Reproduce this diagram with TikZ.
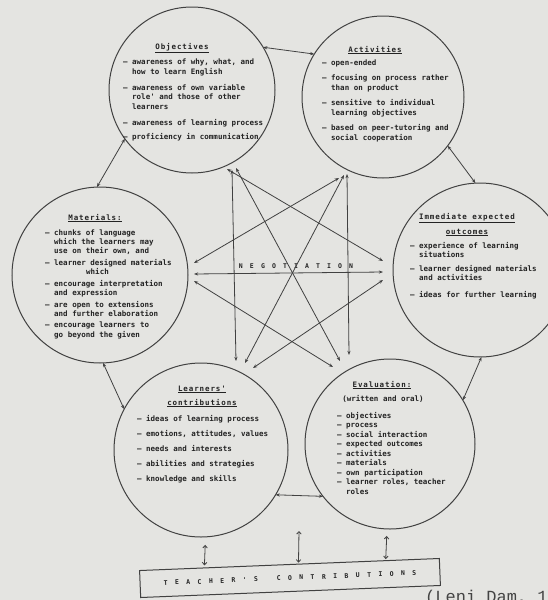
\documentclass[tikz,border=0pt]{standalone}
\usepackage{fontspec}
\setmonofont{DejaVu Sans Mono}
\newfontfamily\ttlfont[LetterSpace=12]{DejaVu Sans Mono}
\newfontfamily\srcfont{Liberation Mono}
\usetikzlibrary{arrows.meta,calc}
\definecolor{paper}{RGB}{228,228,225}
\definecolor{ink}{RGB}{35,35,35}
\definecolor{pen}{RGB}{65,65,65}
\newcommand\nsp{\hspace{7.1pt}}
\newcommand\tsp{\hspace{7.4pt}}
\newcommand\dsh{\textendash}
\begin{document}
\begin{tikzpicture}[x=1pt,y=-1pt,
  >={Stealth[length=4.2pt,width=3.2pt]},
  ring/.style={circle, draw=pen, line width=1pt, minimum size=#1, inner sep=0pt, outer sep=0pt},
  lst/.style={anchor=north west, inner sep=0pt, text=ink, font=\ttfamily\bfseries\fontsize{7.5}{#1}\selectfont},
  ttl/.style={anchor=base, inner sep=0pt, text=ink, font=\ttlfont\bfseries\fontsize{7.5}{9}\selectfont},
  link/.style={draw=pen, line width=0.8pt, <->},
  boxarrow/.style={<->, draw=pen, line width=0.8pt, >={Straight Barb[length=2.5pt,width=4.5pt]}}]
\path[use as bounding box] (0,0) rectangle (548,600);
\fill[paper] (0,0) rectangle (548,600);
\clip (0,0) rectangle (548,600);

% circles
\node[ring=166] (obj) at (192,90) {};
\node[ring=162] (act) at (383,97) {};
\node[ring=176] (mat) at (100,275) {};
\node[ring=174] (imm) at (480,270) {};
\node[ring=174] (lrn) at (201,450) {};
\node[ring=170] (eva) at (390,444) {};

% titles
\node[ttl] (objT) at (182,49) {\underline{Objectives}};
\node[ttl] (actT) at (375,52) {\underline{Activities}};
\node[ttl] (matT) at (95,220) {\underline{Materials:}};
\node[ttl] (immT1) at (467,219) {\underline{Immediate expected}};
\node[ttl] (immT2) at (467,234) {\underline{outcomes}};
\node[ttl] (lrnT1) at (202,391) {\underline{Learners'}};
\node[ttl] (lrnT2) at (202,405) {\underline{contributions}};
\node[ttl] (evaT1) at (382,387) {\underline{Evaluation:}};
\node[ttl, font=\ttfamily\bfseries\fontsize{7.5}{9}\selectfont] (evaT2) at (383,401) {(written and oral)};

% lists
\node[lst=9.6] (objL) at (123,57.5) {\begin{tabular}{@{}l@{\hspace{4.5pt}}l@{}}
\dsh & awareness of why, what, and\\
  & how to learn English\\[6.4pt]
\dsh & awareness of own variable\\
  & role' and those of other\\
  & learners\\[6.6pt]
\dsh & awareness of learning process\\[4.4pt]
\dsh & proficiency in communication
\end{tabular}};

\node[lst=9.6] (actL) at (322,58.5) {\begin{tabular}{@{}l@{\hspace{4.5pt}}l@{}}
\dsh & open-ended\\[5.4pt]
\dsh & focusing on process rather\\
  & than on product\\[5.8pt]
\dsh & sensitive to individual\\
  & learning objectives\\[5.8pt]
\dsh & based on peer-tutoring and\\
  & social cooperation
\end{tabular}};

\node[lst=9.2] (matL) at (45,228.5) {\begin{tabular}{@{}l@{\hspace{4.5pt}}l@{}}
\dsh & chunks of language\\
  & which the learners may\\
  & use on their own, and\\[2.5pt]
\dsh & learner designed materials\\
  & \hspace{32pt}which\\[2.5pt]
\dsh & encourage interpretation\\
  & and expression\\[2.5pt]
\dsh & are open to extensions\\
  & and further elaboration\\[2.5pt]
\dsh & encourage learners to\\
  & go beyond the given
\end{tabular}};

\node[lst=9.3] (immL) at (410,241.5) {\begin{tabular}{@{}l@{\hspace{4.5pt}}l@{}}
\dsh & experience of learning\\
  & situations\\[4.4pt]
\dsh & learner designed materials\\
  & and activities\\[7.4pt]
\dsh & ideas for further learning
\end{tabular}};

\node[lst=9.5] (lrnL) at (137,414.5) {\begin{tabular}{@{}l@{\hspace{4.5pt}}l@{}}
\dsh & ideas of learning process\\[5.5pt]
\dsh & emotions, attitudes, values\\[5.5pt]
\dsh & needs and interests\\[5.5pt]
\dsh & abilities and strategies\\[5.5pt]
\dsh & knowledge and skills
\end{tabular}};

\node[lst=9.5] (evaL) at (337,411.5) {\begin{tabular}{@{}l@{\hspace{4.5pt}}l@{}}
\dsh & objectives\\
\dsh & process\\
\dsh & social interaction\\
\dsh & expected outcomes\\
\dsh & activities\\
\dsh & materials\\
\dsh & own participation\\
\dsh & learner roles, teacher\\
  & roles
\end{tabular}};

% negotiation hub
\node[inner sep=0pt, text=ink, font=\ttfamily\bfseries\fontsize{6.5}{7}\selectfont] (nego) at (296,266)
  {N\nsp E\nsp G\nsp O\nsp T\nsp I\nsp A\nsp T\nsp I\nsp O\nsp N};

\coordinate (o1) at (227,169);
\coordinate (o2) at (232,170);
\coordinate (o3) at (236,168);
\coordinate (a1) at (339,178);
\coordinate (a2) at (344,175);
\coordinate (a3) at (347,174);
\coordinate (m1) at (194,263);
\coordinate (m2) at (194,274);
\coordinate (m3) at (194,281);
\coordinate (i1) at (383,261);
\coordinate (i2) at (383,272);
\coordinate (i3) at (383,280);
\coordinate (l1) at (236,361);
\coordinate (l2) at (245,363);
\coordinate (l3) at (253,368);
\coordinate (e1) at (333,367);
\coordinate (e2) at (340,361);
\coordinate (e3) at (349,355);

\draw[link] (o1) -- (i1);
\draw[link] (o2) -- (l1);
\draw[link] (o3) -- (e2);
\draw[link] (a1) -- (m1);
\draw[link] (a2) -- (l2);
\draw[link] (a3) -- (e3);
\draw[link] (m2) -- (i2);
\draw[link] (m3) -- (e1);
\draw[link] (i3) -- (l3);

% neighbour links
\draw[link] (obj.31) -- (act.148);
\draw[link] (obj.216) -- (mat.92);
\draw[link] (act.323) -- (imm.93);
\draw[link] (mat.272) -- (lrn.152);
\draw[link] (imm.271) -- (eva.31);
\draw[link] (lrn.329) -- (eva.218);

% teacher's contributions
\node[draw=pen, line width=1pt, minimum width=300pt, minimum height=27pt, inner sep=0pt, rotate=2.3,
  text=ink, font=\ttfamily\bfseries\fontsize{6.5}{7}\selectfont] (box) at (290,578)
  {T\tsp E\tsp A\tsp C\tsp H\tsp E\tsp R\tsp '\tsp S\tsp\hspace{3.9pt}\tsp C\tsp O\tsp N\tsp T\tsp R\tsp I\tsp B\tsp U\tsp T\tsp I\tsp O\tsp N\tsp S};

\coordinate (midtop) at (299,531);
\draw[boxarrow, shorten <=8pt, shorten >=2pt] (lrn.273) -- ($(box.north west)!0.217!(box.north east)$);
\draw[boxarrow, shorten >=1pt] (midtop) -- ($(box.north west)!0.53!(box.north east)$);
\draw[boxarrow, shorten <=7pt, shorten >=1pt] (eva.268) -- ($(box.north west)!0.82!(box.north east)$);

\node[anchor=base west, inner sep=0pt, text=ink!85, font=\srcfont\fontsize{17}{17}\selectfont] (src) at (425,602) {(Leni Dam, 1};
\end{tikzpicture}
\end{document}
